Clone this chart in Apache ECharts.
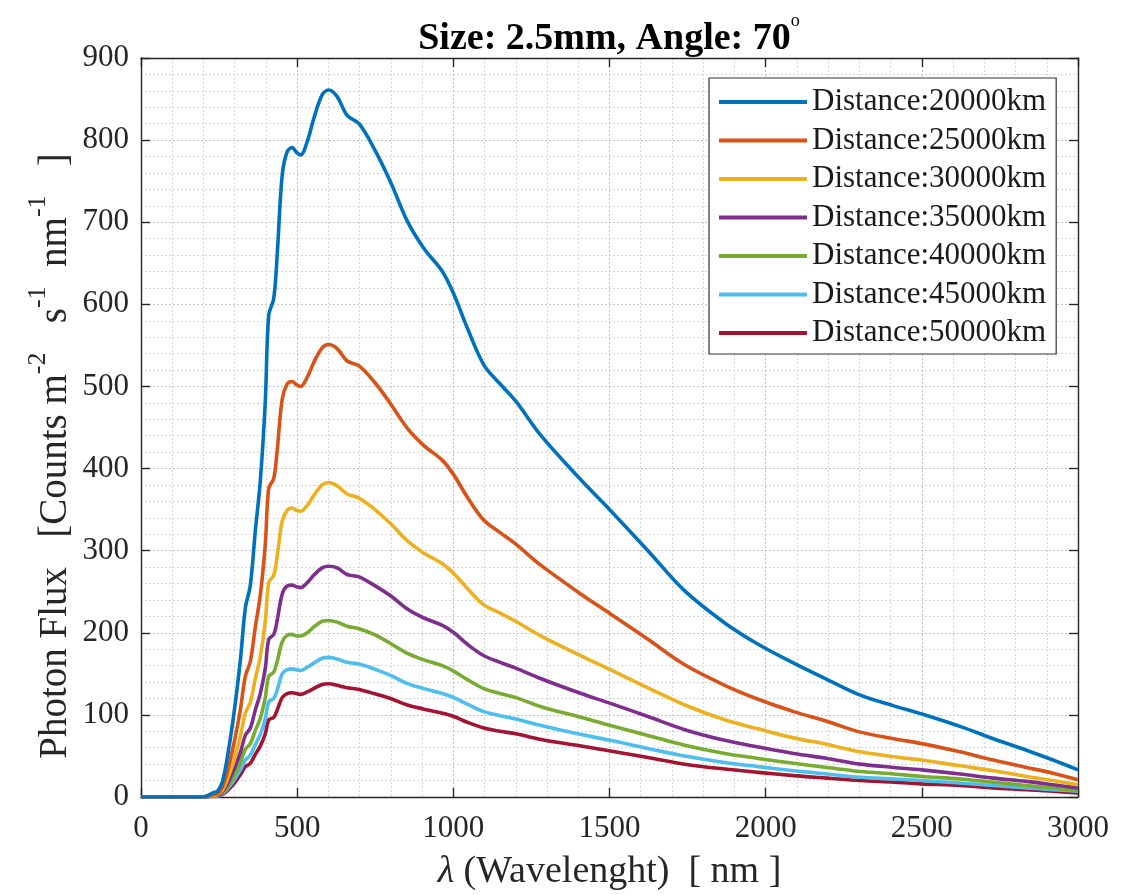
<!DOCTYPE html>
<html>
<head>
<meta charset="utf-8">
<title>Photon Flux vs Wavelength</title>
<script src="https://cdn.jsdelivr.net/npm/echarts/dist/echarts.min.js"></script>
<style>
  html, body { margin: 0; padding: 0; background: #ffffff; overflow: hidden; }
  #chart { width: 1138px; height: 895px; }
</style>
</head>
<body>
<div id="chart"></div>
<script>
// Wavelength samples [nm]
const wavelength = [0, 100, 200, 215, 230, 245, 260, 275, 297, 318, 334, 350, 366, 382, 398, 409, 425, 436, 452, 468, 484, 498, 511, 532, 553, 580, 601, 628, 660, 698, 746, 799, 853, 906, 965, 1002, 1045, 1098, 1150, 1200, 1281, 1409, 1503, 1623, 1741, 1869, 1976, 2090, 2197, 2303, 2410, 2500, 2622, 2729, 2835, 2920, 3000];

// Photon flux [counts m^-2 s^-1 nm^-1] for each observer distance
const flux20000 = [0, 0, 0, 2, 5, 7, 18, 45, 100, 166, 230, 258, 324, 385, 482, 587, 607, 660, 757, 786, 791, 785, 782, 798, 826, 855, 861, 853, 830, 820, 790, 749, 701, 668, 640, 612, 571, 526, 503, 482, 440, 386, 349, 300, 251, 212, 186, 163, 143, 124, 111, 101, 86, 71, 57, 45, 33];
const flux25000 = [0, 0, 0, 1, 3, 4, 12, 29, 64, 106, 147, 165, 207, 246, 308, 376, 388, 422, 484, 503, 506, 502, 500, 511, 529, 547, 551, 546, 531, 525, 506, 479, 449, 428, 410, 392, 365, 337, 322, 308, 282, 247, 223, 192, 161, 136, 119, 104, 92, 79, 71, 65, 55, 45, 36, 29, 21];
const flux30000 = [0, 0, 0, 1, 2, 3, 8, 20, 44, 74, 102, 115, 144, 171, 214, 261, 270, 293, 336, 349, 352, 349, 348, 355, 367, 380, 383, 379, 369, 364, 351, 333, 312, 297, 284, 272, 254, 234, 224, 214, 196, 172, 155, 133, 112, 94, 83, 72, 64, 55, 49, 45, 38, 32, 25, 20, 15];
const flux35000 = [0, 0, 0, 1, 2, 2, 6, 15, 33, 54, 75, 84, 106, 126, 157, 192, 198, 215, 247, 257, 258, 256, 255, 261, 270, 279, 281, 279, 271, 268, 258, 245, 229, 218, 209, 200, 186, 172, 164, 157, 144, 126, 114, 98, 82, 69, 61, 53, 47, 40, 36, 33, 28, 23, 19, 15, 11];
const flux40000 = [0, 0, 0, 1, 1, 2, 5, 11, 25, 42, 58, 65, 81, 96, 121, 147, 152, 165, 189, 197, 198, 196, 196, 200, 207, 214, 215, 213, 208, 205, 198, 187, 175, 167, 160, 153, 143, 132, 126, 121, 110, 97, 87, 75, 63, 53, 47, 41, 36, 31, 28, 25, 22, 18, 14, 11, 8];
const flux45000 = [0, 0, 0, 0, 1, 1, 4, 9, 20, 33, 45, 51, 64, 76, 95, 116, 120, 130, 150, 155, 156, 155, 154, 158, 163, 169, 170, 168, 164, 162, 156, 148, 138, 132, 126, 121, 113, 104, 99, 95, 87, 76, 69, 59, 50, 42, 37, 32, 28, 24, 22, 20, 17, 14, 11, 9, 7];
const flux50000 = [0, 0, 0, 0, 1, 1, 3, 7, 16, 27, 37, 41, 52, 62, 77, 94, 97, 106, 121, 126, 127, 126, 125, 128, 132, 137, 138, 136, 133, 131, 126, 120, 112, 107, 102, 98, 91, 84, 80, 77, 70, 62, 56, 48, 40, 34, 30, 26, 23, 20, 18, 16, 14, 11, 9, 7, 5];

const seriesNames = ['Distance:20000km', 'Distance:25000km', 'Distance:30000km', 'Distance:35000km', 'Distance:40000km', 'Distance:45000km', 'Distance:50000km'];
const seriesValues = [flux20000, flux25000, flux30000, flux35000, flux40000, flux45000, flux50000];
const seriesColors = ['#0072BD', '#D95319', '#EDB120', '#7E2F8E', '#77AC30', '#4DBEEE', '#A2142F'];

const xTicks = [0, 500, 1000, 1500, 2000, 2500, 3000];
const yTicks = [0, 100, 200, 300, 400, 500, 600, 700, 800, 900];

const FONT = '"Liberation Serif", "Times New Roman", serif';
const AXIS_COLOR = '#262626';

const chart = echarts.init(document.getElementById('chart'), null, { renderer: 'canvas', width: 1138, height: 895 });

const gridLine = { show: true, lineStyle: { color: '#c4c4c4', type: [2, 2], width: 1 } };
const minorGridLine = { show: true, lineStyle: { color: '#d8d8d8', type: [2, 2], width: 1 } };

function xAxisDef(pos, isMain) {
  return {
    type: 'value',
    position: pos,
    min: xTicks[0],
    max: xTicks[xTicks.length - 1],
    interval: xTicks[1] - xTicks[0],
    axisLine: { show: true, onZero: false, lineStyle: { color: AXIS_COLOR, width: 1.4 } },
    axisTick: { show: true, inside: true, length: 9, lineStyle: { color: AXIS_COLOR, width: 1.4 } },
    axisLabel: {
      show: isMain, margin: 16, color: '#262626', fontFamily: FONT, fontSize: 31,
      formatter: (v) => String(v)
    },
    minorTick: { show: isMain, splitNumber: 5, length: 0 },
    splitLine: isMain ? gridLine : { show: false },
    minorSplitLine: isMain ? minorGridLine : { show: false },
    name: isMain ? '{l|λ}{t| (Wavelenght)  [ nm ]}' : '',
    nameLocation: 'middle',
    nameGap: 56,
    nameTextStyle: {
      rich: {
        l: { fontFamily: FONT, fontSize: 38, fontStyle: 'italic', color: '#262626' },
        t: { fontFamily: FONT, fontSize: 38, color: '#262626' }
      }
    }
  };
}

function yAxisDef(pos, isMain) {
  return {
    type: 'value',
    position: pos,
    min: yTicks[0],
    max: yTicks[yTicks.length - 1],
    interval: yTicks[1] - yTicks[0],
    axisLine: { show: true, onZero: false, lineStyle: { color: AXIS_COLOR, width: 1.4 } },
    axisTick: { show: true, inside: true, length: 9, lineStyle: { color: AXIS_COLOR, width: 1.4 } },
    axisLabel: {
      show: isMain, margin: 12, color: '#262626', fontFamily: FONT, fontSize: 31,
      formatter: (v) => String(v)
    },
    minorTick: { show: isMain, splitNumber: 5, length: 0 },
    splitLine: isMain ? gridLine : { show: false },
    minorSplitLine: isMain ? minorGridLine : { show: false }
  };
}

const series = seriesNames.map((name, k) => ({
  name: name,
  type: 'line',
  xAxisIndex: 0,
  yAxisIndex: 0,
  data: wavelength.map((w, i) => [w, seriesValues[k][i]]),
  showSymbol: false,
  symbol: 'none',
  smooth: 0.35,
  clip: true,
  lineStyle: { color: seriesColors[k], width: 3.6 },
  itemStyle: { color: seriesColors[k] },
  emphasis: { disabled: true },
  z: 10 - k
}));

chart.setOption({
  backgroundColor: '#ffffff',
  animation: false,
  textStyle: { fontFamily: FONT },
  grid: { left: 141, right: 60, top: 58, bottom: 98, containLabel: false, outerBoundsMode: 'none' },
  xAxis: [xAxisDef('bottom', true), xAxisDef('top', false)],
  yAxis: [yAxisDef('left', true), yAxisDef('right', false)],
  legend: {
    orient: 'vertical',
    left: 709,
    top: 78,
    padding: [7, 10, 4, 10],
    itemGap: 4.5,
    itemWidth: 88,
    itemHeight: 4,
    icon: 'rect',
    backgroundColor: '#ffffff',
    borderColor: '#333333',
    borderWidth: 1.2,
    borderRadius: 0,
    textStyle: { fontFamily: FONT, fontSize: 31, color: '#1a1a1a', lineHeight: 34 },
    data: seriesNames
  },
  graphic: [{
    // chart title with superscript degree mark
    type: 'text',
    x: 609,
    y: 12,
    style: {
      text: '{t|Size: 2.5mm, Angle: 70}{d|o}',
      align: 'center',
      verticalAlign: 'top',
      rich: {
        t: { fontFamily: FONT, fontSize: 38, fontWeight: 'bold', fill: '#000000', lineHeight: 46, verticalAlign: 'bottom' },
        d: { fontFamily: FONT, fontSize: 18, fill: '#000000', lineHeight: 20, verticalAlign: 'top' }
      }
    }
  }, {
    // y-axis title, rotated, with unit exponents
    type: 'text',
    x: 50,
    y: 456,
    rotation: Math.PI / 2,
    style: {
      text: '{t|Photon Flux   [Counts m}{s|-2}{t|   s}{s|-1}{t|  nm}{s|-1}{t|   ]}',
      align: 'center',
      verticalAlign: 'middle',
      rich: {
        t: { fontFamily: FONT, fontSize: 39, fill: '#262626', lineHeight: 50, verticalAlign: 'bottom' },
        s: { fontFamily: FONT, fontSize: 26, fill: '#262626', lineHeight: 26, verticalAlign: 'top' }
      }
    }
  }],
  series: series
});
</script>
</body>
</html>
